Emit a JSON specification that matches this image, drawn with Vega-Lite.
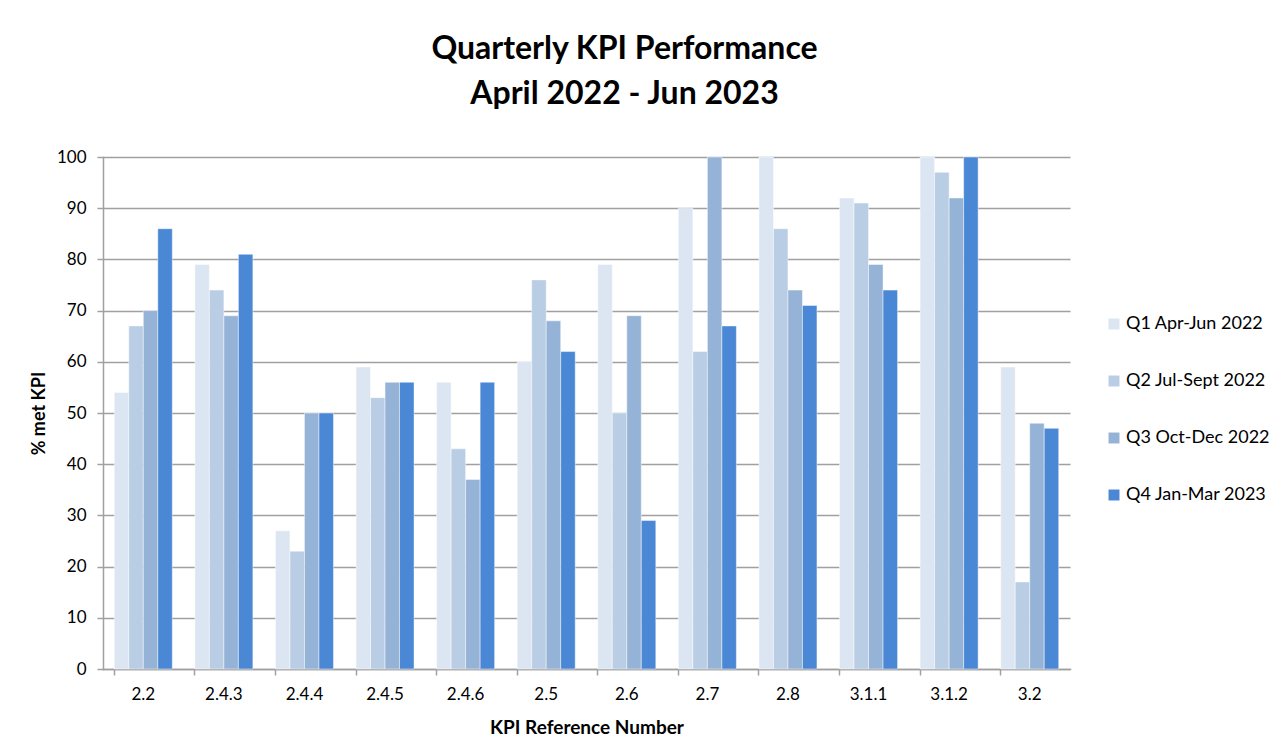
{
  "$schema": "https://vega.github.io/schema/vega-lite/v6.json",
  "autosize": {"type": "none"},
  "padding": {"left": 103, "top": 157, "right": 214, "bottom": 87},
  "width": 967,
  "height": 512,
  "background": "white",
  "title": {
    "text": ["Quarterly KPI Performance", "April 2022 - Jun 2023"],
    "font": "Lato",
    "fontSize": 32,
    "fontWeight": "bold",
    "color": "#000000",
    "lineHeight": 45,
    "anchor": "middle",
    "dx": 38,
    "offset": 37
  },
  "data": {
    "values": [
      {"kpi": "2.2", "quarter": "Q1 Apr-Jun 2022", "value": 54},
      {"kpi": "2.2", "quarter": "Q2 Jul-Sept 2022", "value": 67},
      {"kpi": "2.2", "quarter": "Q3 Oct-Dec 2022", "value": 70},
      {"kpi": "2.2", "quarter": "Q4 Jan-Mar 2023", "value": 86},
      {"kpi": "2.4.3", "quarter": "Q1 Apr-Jun 2022", "value": 79},
      {"kpi": "2.4.3", "quarter": "Q2 Jul-Sept 2022", "value": 74},
      {"kpi": "2.4.3", "quarter": "Q3 Oct-Dec 2022", "value": 69},
      {"kpi": "2.4.3", "quarter": "Q4 Jan-Mar 2023", "value": 81},
      {"kpi": "2.4.4", "quarter": "Q1 Apr-Jun 2022", "value": 27},
      {"kpi": "2.4.4", "quarter": "Q2 Jul-Sept 2022", "value": 23},
      {"kpi": "2.4.4", "quarter": "Q3 Oct-Dec 2022", "value": 50},
      {"kpi": "2.4.4", "quarter": "Q4 Jan-Mar 2023", "value": 50},
      {"kpi": "2.4.5", "quarter": "Q1 Apr-Jun 2022", "value": 59},
      {"kpi": "2.4.5", "quarter": "Q2 Jul-Sept 2022", "value": 53},
      {"kpi": "2.4.5", "quarter": "Q3 Oct-Dec 2022", "value": 56},
      {"kpi": "2.4.5", "quarter": "Q4 Jan-Mar 2023", "value": 56},
      {"kpi": "2.4.6", "quarter": "Q1 Apr-Jun 2022", "value": 56},
      {"kpi": "2.4.6", "quarter": "Q2 Jul-Sept 2022", "value": 43},
      {"kpi": "2.4.6", "quarter": "Q3 Oct-Dec 2022", "value": 37},
      {"kpi": "2.4.6", "quarter": "Q4 Jan-Mar 2023", "value": 56},
      {"kpi": "2.5", "quarter": "Q1 Apr-Jun 2022", "value": 60},
      {"kpi": "2.5", "quarter": "Q2 Jul-Sept 2022", "value": 76},
      {"kpi": "2.5", "quarter": "Q3 Oct-Dec 2022", "value": 68},
      {"kpi": "2.5", "quarter": "Q4 Jan-Mar 2023", "value": 62},
      {"kpi": "2.6", "quarter": "Q1 Apr-Jun 2022", "value": 79},
      {"kpi": "2.6", "quarter": "Q2 Jul-Sept 2022", "value": 50},
      {"kpi": "2.6", "quarter": "Q3 Oct-Dec 2022", "value": 69},
      {"kpi": "2.6", "quarter": "Q4 Jan-Mar 2023", "value": 29},
      {"kpi": "2.7", "quarter": "Q1 Apr-Jun 2022", "value": 90},
      {"kpi": "2.7", "quarter": "Q2 Jul-Sept 2022", "value": 62},
      {"kpi": "2.7", "quarter": "Q3 Oct-Dec 2022", "value": 100},
      {"kpi": "2.7", "quarter": "Q4 Jan-Mar 2023", "value": 67},
      {"kpi": "2.8", "quarter": "Q1 Apr-Jun 2022", "value": 100},
      {"kpi": "2.8", "quarter": "Q2 Jul-Sept 2022", "value": 86},
      {"kpi": "2.8", "quarter": "Q3 Oct-Dec 2022", "value": 74},
      {"kpi": "2.8", "quarter": "Q4 Jan-Mar 2023", "value": 71},
      {"kpi": "3.1.1", "quarter": "Q1 Apr-Jun 2022", "value": 92},
      {"kpi": "3.1.1", "quarter": "Q2 Jul-Sept 2022", "value": 91},
      {"kpi": "3.1.1", "quarter": "Q3 Oct-Dec 2022", "value": 79},
      {"kpi": "3.1.1", "quarter": "Q4 Jan-Mar 2023", "value": 74},
      {"kpi": "3.1.2", "quarter": "Q1 Apr-Jun 2022", "value": 100},
      {"kpi": "3.1.2", "quarter": "Q2 Jul-Sept 2022", "value": 97},
      {"kpi": "3.1.2", "quarter": "Q3 Oct-Dec 2022", "value": 92},
      {"kpi": "3.1.2", "quarter": "Q4 Jan-Mar 2023", "value": 100},
      {"kpi": "3.2", "quarter": "Q1 Apr-Jun 2022", "value": 59},
      {"kpi": "3.2", "quarter": "Q2 Jul-Sept 2022", "value": 17},
      {"kpi": "3.2", "quarter": "Q3 Oct-Dec 2022", "value": 48},
      {"kpi": "3.2", "quarter": "Q4 Jan-Mar 2023", "value": 47}
    ]
  },
  "mark": {"type": "bar", "stroke": "#ffffff", "strokeOpacity": 0.45, "strokeWidth": 1},
  "encoding": {
    "x": {
      "field": "kpi",
      "type": "nominal",
      "sort": null,
      "scale": {"paddingInner": 0.28, "paddingOuter": 0.14},
      "axis": {
        "title": "KPI Reference Number",
        "titleFont": "Lato",
        "titleFontSize": 19,
        "titleFontWeight": "bold",
        "titleColor": "#000000",
        "titlePadding": 16,
        "labelFont": "Lato",
        "labelFontSize": 17,
        "labelColor": "#000000",
        "labelAngle": 0,
        "labelPadding": 11,
        "bandPosition": 0,
        "tickColor": "#a0a0a0",
        "tickSize": 6,
        "tickWidth": 1.5,
        "domainColor": "#a0a0a0",
        "domainWidth": 1.5,
        "grid": false
      }
    },
    "xOffset": {"field": "quarter", "type": "nominal", "scale": {"paddingInner": 0, "paddingOuter": 0}},
    "y": {
      "field": "value",
      "type": "quantitative",
      "scale": {"domain": [0, 100], "nice": false},
      "axis": {
        "title": "% met KPI",
        "titleFont": "Lato",
        "titleFontSize": 18,
        "titleFontWeight": "bold",
        "titleColor": "#000000",
        "titlePadding": 8,
        "labelFont": "Lato",
        "labelFontSize": 17,
        "labelColor": "#000000",
        "labelPadding": 11,
        "values": [0, 10, 20, 30, 40, 50, 60, 70, 80, 90, 100],
        "tickColor": "#a0a0a0",
        "tickSize": 6,
        "tickWidth": 1.5,
        "domainColor": "#a0a0a0",
        "domainWidth": 1.5,
        "grid": true,
        "gridColor": "#a0a0a0",
        "gridWidth": 1.5
      }
    },
    "color": {
      "field": "quarter",
      "type": "nominal",
      "scale": {
        "domain": ["Q1 Apr-Jun 2022", "Q2 Jul-Sept 2022", "Q3 Oct-Dec 2022", "Q4 Jan-Mar 2023"],
        "range": ["#dce6f2", "#b9cde5", "#95b3d7", "#4a88d6"]
      },
      "legend": {
        "title": null,
        "orient": "none",
        "legendX": 1002,
        "legendY": 158,
        "symbolType": "square",
        "symbolSize": 120,
        "symbolStrokeWidth": 0,
        "labelFont": "Lato",
        "labelFontSize": 18,
        "labelColor": "#000000",
        "labelOffset": 3,
        "rowPadding": 39,
        "labelLimit": 300
      }
    }
  },
  "config": {
    "view": {"stroke": null},
    "axis": {"domainCap": "square"}
  }
}
